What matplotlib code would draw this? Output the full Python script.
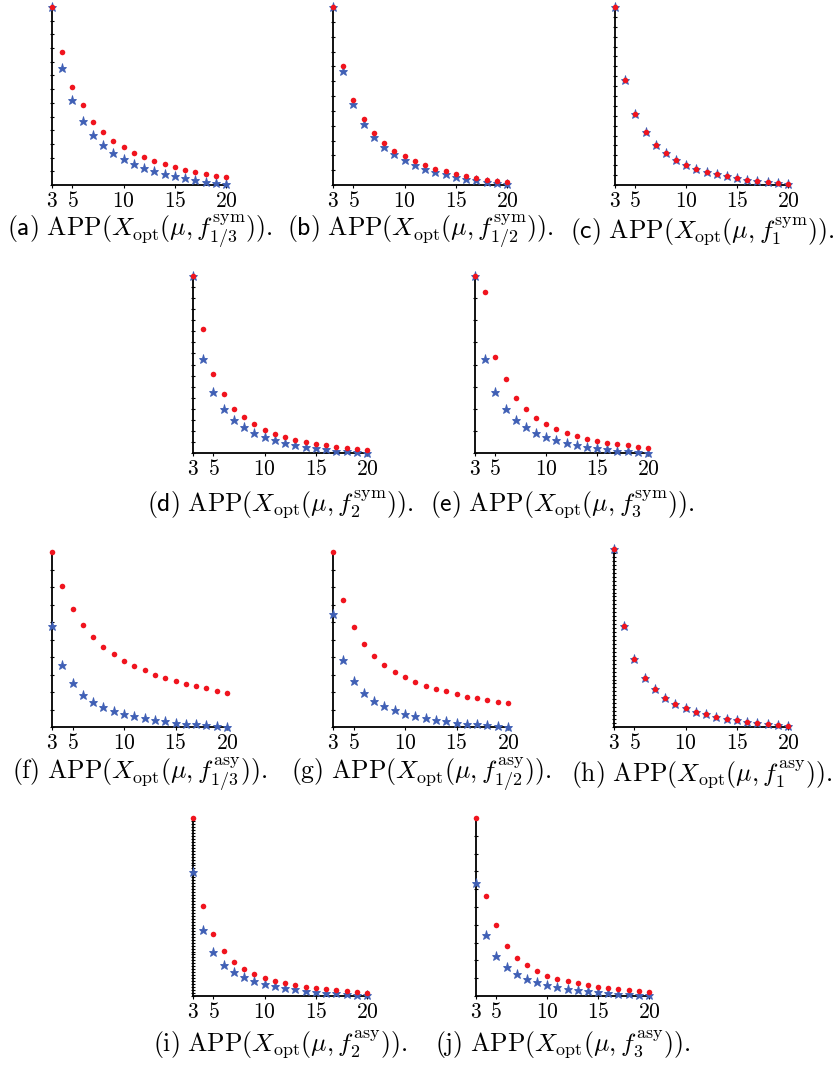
import matplotlib
matplotlib.use("Agg")
import matplotlib.pyplot as plt
from matplotlib.ticker import FixedLocator, LinearLocator

plt.rcParams['mathtext.fontset'] = 'cm'

n_values = list(range(3, 21))
xtick_values = [3, 5, 10, 15, 20]

a_red = [1.0, 0.750, 0.548, 0.447, 0.356, 0.300, 0.250, 0.214, 0.180, 0.159, 0.133, 0.116, 0.099, 0.084, 0.071, 0.060, 0.053, 0.043]
a_blue = [1.0, 0.657, 0.475, 0.358, 0.280, 0.223, 0.182, 0.148, 0.120, 0.098, 0.081, 0.064, 0.051, 0.038, 0.028, 0.019, 0.011, 0.004]
b_red = [1.0, 0.668, 0.478, 0.371, 0.291, 0.236, 0.193, 0.161, 0.133, 0.111, 0.092, 0.077, 0.062, 0.051, 0.039, 0.030, 0.023, 0.015]
b_blue = [1.0, 0.638, 0.454, 0.343, 0.268, 0.216, 0.173, 0.141, 0.114, 0.092, 0.075, 0.060, 0.047, 0.036, 0.026, 0.017, 0.009, 0.006]
c_red = [1.0, 0.589, 0.401, 0.295, 0.227, 0.180, 0.143, 0.114, 0.092, 0.075, 0.062, 0.049, 0.039, 0.028, 0.023, 0.015, 0.009, 0.004]
c_blue = [1.0, 0.589, 0.401, 0.295, 0.227, 0.180, 0.143, 0.114, 0.092, 0.075, 0.062, 0.049, 0.039, 0.028, 0.023, 0.015, 0.009, 0.004]
d_red = [1.0, 0.701, 0.447, 0.335, 0.250, 0.201, 0.162, 0.132, 0.109, 0.090, 0.075, 0.062, 0.053, 0.043, 0.034, 0.028, 0.023, 0.019]
d_blue = [1.0, 0.530, 0.346, 0.246, 0.186, 0.145, 0.115, 0.092, 0.073, 0.058, 0.047, 0.036, 0.026, 0.021, 0.013, 0.009, 0.006, 0.0]
e_red = [1.0, 0.912, 0.543, 0.419, 0.310, 0.250, 0.195, 0.165, 0.135, 0.115, 0.096, 0.081, 0.068, 0.058, 0.049, 0.043, 0.034, 0.028]
e_blue = [1.0, 0.530, 0.346, 0.246, 0.184, 0.145, 0.115, 0.092, 0.073, 0.058, 0.047, 0.036, 0.026, 0.021, 0.013, 0.009, 0.004, 0.0]
f_red = [1.0, 0.803, 0.673, 0.583, 0.516, 0.459, 0.419, 0.380, 0.350, 0.325, 0.300, 0.281, 0.264, 0.247, 0.233, 0.222, 0.208, 0.195]
f_blue = [0.577, 0.356, 0.249, 0.184, 0.143, 0.115, 0.092, 0.076, 0.061, 0.050, 0.038, 0.034, 0.023, 0.019, 0.015, 0.013, 0.008, 0.002]
g_red = [1.0, 0.725, 0.574, 0.474, 0.407, 0.356, 0.317, 0.287, 0.258, 0.235, 0.218, 0.203, 0.187, 0.174, 0.163, 0.153, 0.143, 0.136]
g_blue = [0.648, 0.384, 0.264, 0.193, 0.149, 0.119, 0.096, 0.076, 0.061, 0.050, 0.040, 0.033, 0.025, 0.019, 0.015, 0.011, 0.006, 0.002]
h_red = [1.0, 0.568, 0.380, 0.278, 0.211, 0.165, 0.132, 0.105, 0.086, 0.071, 0.055, 0.045, 0.038, 0.028, 0.021, 0.015, 0.009, 0.004]
h_blue = [1.0, 0.568, 0.380, 0.278, 0.211, 0.165, 0.132, 0.105, 0.086, 0.071, 0.055, 0.045, 0.038, 0.028, 0.021, 0.015, 0.009, 0.004]
i_red = [1.0, 0.507, 0.351, 0.255, 0.193, 0.154, 0.126, 0.103, 0.086, 0.073, 0.062, 0.053, 0.043, 0.038, 0.032, 0.026, 0.021, 0.017]
i_blue = [0.698, 0.373, 0.246, 0.176, 0.133, 0.105, 0.083, 0.069, 0.056, 0.045, 0.038, 0.028, 0.023, 0.019, 0.015, 0.011, 0.008, 0.004]
j_red = [1.0, 0.563, 0.400, 0.281, 0.216, 0.176, 0.141, 0.114, 0.096, 0.084, 0.071, 0.062, 0.053, 0.043, 0.038, 0.032, 0.028, 0.024]
j_blue = [0.634, 0.340, 0.227, 0.163, 0.124, 0.098, 0.079, 0.064, 0.051, 0.041, 0.034, 0.026, 0.021, 0.017, 0.013, 0.011, 0.008, 0.004]

captions = [
    r'$\mathsf{(a)}\ \mathrm{APP}(X_{\mathrm{opt}}(\mu,f^{\mathrm{sym}}_{1/3}))\mathrm{.}$',
    r'$\mathsf{(b)}\ \mathrm{APP}(X_{\mathrm{opt}}(\mu,f^{\mathrm{sym}}_{1/2}))\mathrm{.}$',
    r'$\mathsf{(c)}\ \mathrm{APP}(X_{\mathrm{opt}}(\mu,f^{\mathrm{sym}}_{1}))\mathrm{.}$',
    r'$\mathsf{(d)}\ \mathrm{APP}(X_{\mathrm{opt}}(\mu,f^{\mathrm{sym}}_{2}))\mathrm{.}$',
    r'$\mathsf{(e)}\ \mathrm{APP}(X_{\mathrm{opt}}(\mu,f^{\mathrm{sym}}_{3}))\mathrm{.}$',
    r'$\mathrm{(f)}\ \mathrm{APP}(X_{\mathrm{opt}}(\mu,f^{\mathrm{asy}}_{1/3}))\mathrm{.}$',
    r'$\mathrm{(g)}\ \mathrm{APP}(X_{\mathrm{opt}}(\mu,f^{\mathrm{asy}}_{1/2}))\mathrm{.}$',
    r'$\mathrm{(h)}\ \mathrm{APP}(X_{\mathrm{opt}}(\mu,f^{\mathrm{asy}}_{1}))\mathrm{.}$',
    r'$\mathrm{(i)}\ \mathrm{APP}(X_{\mathrm{opt}}(\mu,f^{\mathrm{asy}}_{2}))\mathrm{.}$',
    r'$\mathrm{(j)}\ \mathrm{APP}(X_{\mathrm{opt}}(\mu,f^{\mathrm{asy}}_{3}))\mathrm{.}$',
]

reds = [a_red, b_red, c_red, d_red, e_red, f_red, g_red, h_red, i_red, j_red]
blues = [a_blue, b_blue, c_blue, d_blue, e_blue, f_blue, g_blue, h_blue, i_blue, j_blue]

W, H = 838, 1067
# layout in pixels: (left spine, x=20 position, top, bottom, caption y, minor tick count)
layout = [
    (52, 227, 7, 185, 232, 13),
    (333, 508, 7, 185, 232, 12),
    (615, 789, 7, 185, 232, 18),
    (193, 368, 276, 453, 505, 16),
    (475, 649, 276, 453, 505, 8),
    (52, 228, 552, 727, 775, 10),
    (333, 509, 552, 727, 775, 10),
    (614, 789, 549, 727, 775, 45),
    (193, 368, 818, 996, 1045, 60),
    (476, 650, 818, 996, 1045, 10),
]

fig = plt.figure(figsize=(W / 100, H / 100), dpi=100)

for k in range(10):
    l, r, t, b, cy, nt = layout[k]
    ax = fig.add_axes([l / W, 1 - b / H, (r - l) / W, (b - t) / H])
    ax.plot(n_values, blues[k], linestyle='none', marker='*', markersize=6.5,
            color='#3f5fb5', markeredgewidth=0.6, clip_on=False, zorder=3)
    ax.plot(n_values, reds[k], linestyle='none', marker='o', markersize=4,
            color='#f0141e', markeredgewidth=0, clip_on=False, zorder=4)
    ax.set_xlim(3, 20.1)
    ax.set_ylim(0, 1)
    for s in ('top', 'right'):
        ax.spines[s].set_visible(False)
    for s in ('left', 'bottom'):
        ax.spines[s].set_linewidth(1.3)
        ax.spines[s].set_color('black')
    ax.set_xticks(xtick_values)
    ax.set_xticklabels([f'${v}$' for v in xtick_values], fontsize=15.5)
    ax.tick_params(axis='x', length=2, width=0.8, pad=2)
    ax.yaxis.set_major_locator(FixedLocator([]))
    ax.yaxis.set_minor_locator(LinearLocator(nt + 1))
    ax.tick_params(axis='y', which='minor', length=2.5, width=0.8, direction='inout')
    ax.set_yticklabels([])
    ax.patch.set_alpha(0)
    cx = (l + r) / 2
    fig.text(cx / W, 1 - cy / H, captions[k], ha='center', va='center', fontsize=18.5)

fig.savefig('out.png', dpi=100)
